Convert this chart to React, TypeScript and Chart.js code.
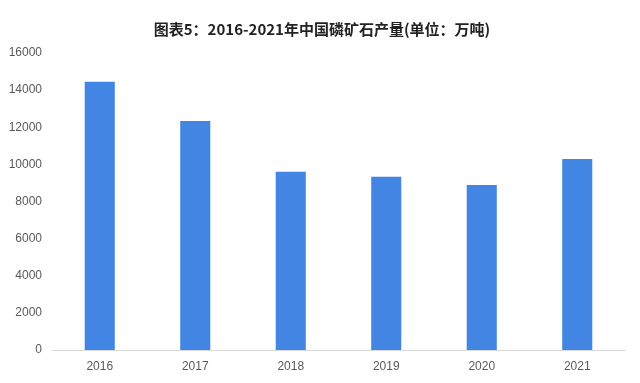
import React, { useEffect, useRef } from "react";
import { Chart, registerables } from "chart.js";

Chart.register(...registerables);

const titleText = "图表5：2016-2021年中国磷矿石产量(单位：万吨)";
const years = ["2016", "2017", "2018", "2019", "2020", "2021"];
const output = [14450, 12330, 9600, 9330, 8890, 10290];
const yMin = 0;
const yMax = 16000;
const yStep = 2000;

const titlePlugin = {
  id: "customTitle",
  afterDraw(chart: any) {
    const ctx = chart.ctx;
    ctx.save();
    ctx.font = 'bold 15px "Noto Sans CJK SC", sans-serif';
    ctx.fillStyle = "#222222";
    ctx.textAlign = "center";
    ctx.textBaseline = "middle";
    ctx.fillText(titleText, 322, 29);
    ctx.restore();
  },
};

export default function App() {
  const ref = useRef<HTMLCanvasElement | null>(null);
  useEffect(() => {
    document.body.style.margin = "0";
    const canvas = ref.current;
    if (!canvas) return;
    const chart = new Chart(canvas, {
      type: "bar",
      data: {
        labels: years,
        datasets: [
          {
            data: output,
            backgroundColor: "#4285E3",
            borderWidth: 0,
            categoryPercentage: 1,
            barPercentage: 0.315,
          },
        ],
      },
      options: {
        animation: false,
        responsive: false,
        maintainAspectRatio: false,
        layout: { padding: { top: 53, right: 15, left: 0, bottom: 0 } },
        plugins: {
          legend: { display: false },
          title: { display: false },
          tooltip: { enabled: false },
        },
        scales: {
          x: {
            grid: { display: false, drawTicks: false },
            border: { display: true, color: "#d9d9d9", width: 1 },
            ticks: {
              color: "#595959",
              font: { family: '"Liberation Sans", Arial, sans-serif', size: 12 },
              padding: 9,
            },
            afterFit(scale: any) {
              scale.height = 33;
            },
          },
          y: {
            min: yMin,
            max: yMax,
            grid: { display: false, drawTicks: false },
            border: { display: false },
            ticks: {
              stepSize: yStep,
              color: "#595959",
              font: { family: '"Liberation Sans", Arial, sans-serif', size: 12 },
              padding: 10,
              callback: (v: any) => String(v),
            },
            afterFit(scale: any) {
              scale.width = 52;
            },
          },
        },
      },
      plugins: [titlePlugin],
    });
    return () => chart.destroy();
  }, []);
  return (
    <div style={{ position: "absolute", left: 0, top: 0, width: 640, height: 383, background: "#fff" }}>
      <canvas ref={ref} width={640} height={383} style={{ width: 640, height: 383, display: "block" }} />
    </div>
  );
}
